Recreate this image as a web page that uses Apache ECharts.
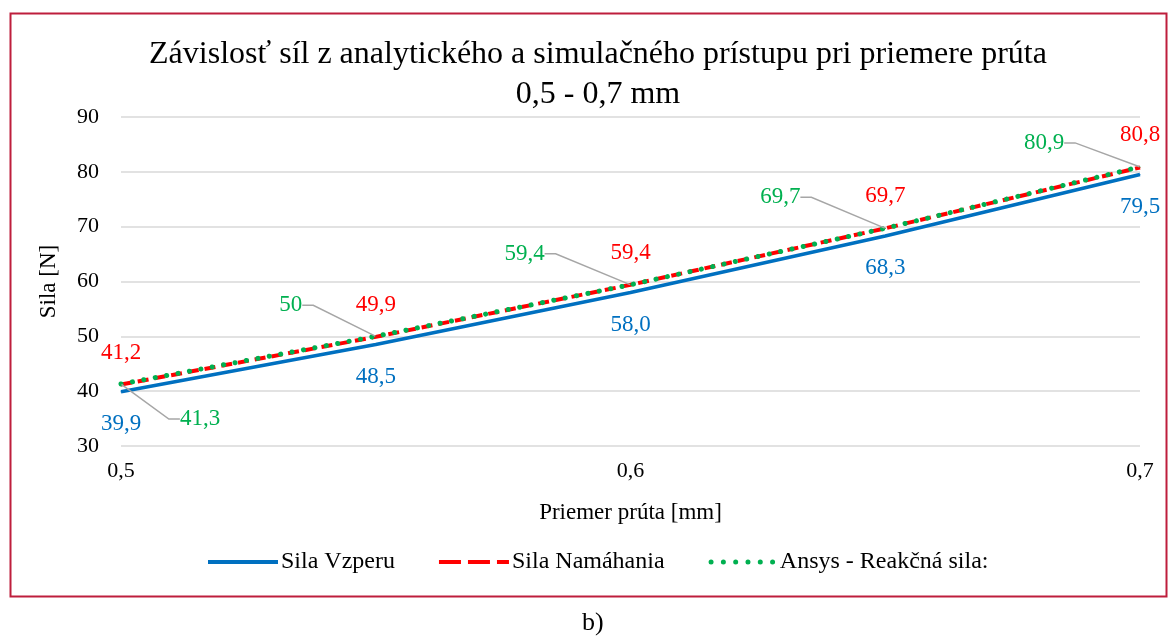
<!DOCTYPE html>
<html>
<head>
<meta charset="utf-8">
<script src="https://cdn.jsdelivr.net/npm/echarts@6/dist/echarts.min.js"></script>
<style>
  html, body { margin: 0; padding: 0; background: #ffffff; }
  #chart { width: 1170px; height: 640px; }
</style>
</head>
<body>
<div id="chart"></div>
<script>
// Priemer prúta [mm]
const priemer = [0.5, 0.55, 0.6, 0.65, 0.7];
// Sila [N]
const silaVzperu = [39.9, 48.5, 58.0, 68.3, 79.5];
const silaNamahania = [41.2, 49.9, 59.4, 69.7, 80.8];
const ansysReakcna = [41.3, 50, 59.4, 69.7, 80.9];

const serif = '"Liberation Serif", "DejaVu Serif", serif';
const comma = (s) => String(s).replace('.', ',');

// Ansys labels sit off to the side with a leader line (pixel offsets)
const greenShift = [[79, 35], [-85, -31], [-106, -31], [-105, -31], [-96, -24]];

// legend icons: solid bar, three dashes, six dots
const iconSolid = 'path://M0,0H70V4H0Z';
const iconDashed = 'path://M0,0H22V4H0Z M29,0H51V4H29Z M58,0H70V4H58Z';
const iconDotted = 'path://' + [0, 1, 2, 3, 4, 5].map((i) => {
  const cx = 2.5 + i * 12.3;
  return 'M' + (cx - 2.5) + ',2.5a2.5,2.5 0 1,0 5,0a2.5,2.5 0 1,0 -5,0Z';
}).join(' ');

const pairs = (ys) => priemer.map((x, i) => [x, ys[i]]);

const chart = echarts.init(document.getElementById('chart'), null, { renderer: 'canvas' });

chart.setOption({
  animation: false,
  backgroundColor: '#ffffff',
  textStyle: { fontFamily: serif },
  title: {
    text: 'Závislosť síl z analytického a simulačného prístupu pri priemere prúta\n0,5 - 0,7 mm',
    left: 593,
    textAlign: 'center',
    top: 30,
    textStyle: { fontFamily: serif, fontSize: 32, fontWeight: 'normal', color: '#000', lineHeight: 40 }
  },
  grid: { left: 121, right: 30, top: 117, bottom: 194, containLabel: false },
  xAxis: {
    type: 'value',
    min: 0.5, max: 0.7, interval: 0.1,
    name: 'Priemer prúta [mm]',
    nameLocation: 'middle',
    nameGap: 55,
    nameTextStyle: { fontFamily: serif, fontSize: 23, color: '#000' },
    axisLine: { show: false },
    axisTick: { show: false },
    splitLine: { show: false },
    axisLabel: { fontFamily: serif, fontSize: 22, color: '#000', margin: 14, formatter: (v) => comma(v) }
  },
  yAxis: {
    type: 'value',
    min: 30, max: 90, interval: 10,
    name: 'Sila [N]',
    nameLocation: 'middle',
    nameGap: 61,
    nameRotate: 90,
    nameTextStyle: { fontFamily: serif, fontSize: 23, color: '#000' },
    axisLine: { show: false },
    axisTick: { show: false },
    axisLabel: { fontFamily: serif, fontSize: 22, color: '#000', margin: 22 },
    splitLine: { lineStyle: { color: '#d9d9d9', width: 1.5 } }
  },
  legend: {
    left: 203,
    top: 545,
    itemWidth: 70,
    itemHeight: 5,
    itemGap: 44,
    textStyle: { fontFamily: serif, fontSize: 24, color: '#000', padding: [0, 0, 0, -2] },
    data: [
      { name: 'Sila Vzperu', icon: iconSolid },
      { name: 'Sila Namáhania', icon: iconDashed },
      { name: 'Ansys - Reakčná sila:', icon: iconDotted }
    ]
  },
  series: [
    {
      name: 'Sila Vzperu',
      type: 'line',
      data: pairs(silaVzperu),
      symbol: 'circle',
      symbolSize: 1,
      itemStyle: { color: '#0070C0' },
      lineStyle: { color: '#0070C0', width: 3.5 },
      z: 2,
      label: {
        show: true,
        position: 'bottom',
        distance: 20,
        fontFamily: serif,
        fontSize: 23,
        color: '#0070C0',
        formatter: (p) => comma(p.value[1].toFixed(1))
      }
    },
    {
      name: 'Sila Namáhania',
      type: 'line',
      data: pairs(silaNamahania),
      symbol: 'circle',
      symbolSize: 1,
      itemStyle: { color: '#FF0000' },
      lineStyle: { color: '#FF0000', width: 4, type: [11, 6] },
      z: 3,
      label: {
        show: true,
        position: 'top',
        distance: 20,
        fontFamily: serif,
        fontSize: 23,
        color: '#FF0000',
        formatter: (p) => comma(p.value[1].toFixed(1))
      }
    },
    {
      name: 'Ansys - Reakčná sila:',
      type: 'line',
      data: pairs(ansysReakcna),
      symbol: 'circle',
      symbolSize: 1,
      itemStyle: { color: '#00B050' },
      lineStyle: { color: '#00B050', width: 5, type: [0.1, 11.5], cap: 'round' },
      z: 4,
      label: {
        show: true,
        position: 'inside',
        padding: [0, 8, 0, 8],
        fontFamily: serif,
        fontSize: 23,
        color: '#00B050',
        formatter: (p) => comma(p.value[1])
      },
      labelLine: {
        show: true,
        length2: 11,
        lineStyle: { color: '#a6a6a6', width: 1.5 }
      },
      labelLayout: (params) => ({
        dx: greenShift[params.dataIndex][0],
        dy: greenShift[params.dataIndex][1]
      })
    }
  ],
  graphic: [
    {
      type: 'rect',
      left: 8, top: 11,
      shape: { width: 1156, height: 583 },
      style: { fill: 'none', stroke: '#BE1E3C', lineWidth: 2 },
      silent: true
    },
    {
      type: 'text',
      left: 582, top: 610,
      style: { text: 'b)', font: '26px ' + serif, fill: '#000' },
      silent: true
    }
  ]
});
</script>
</body>
</html>
